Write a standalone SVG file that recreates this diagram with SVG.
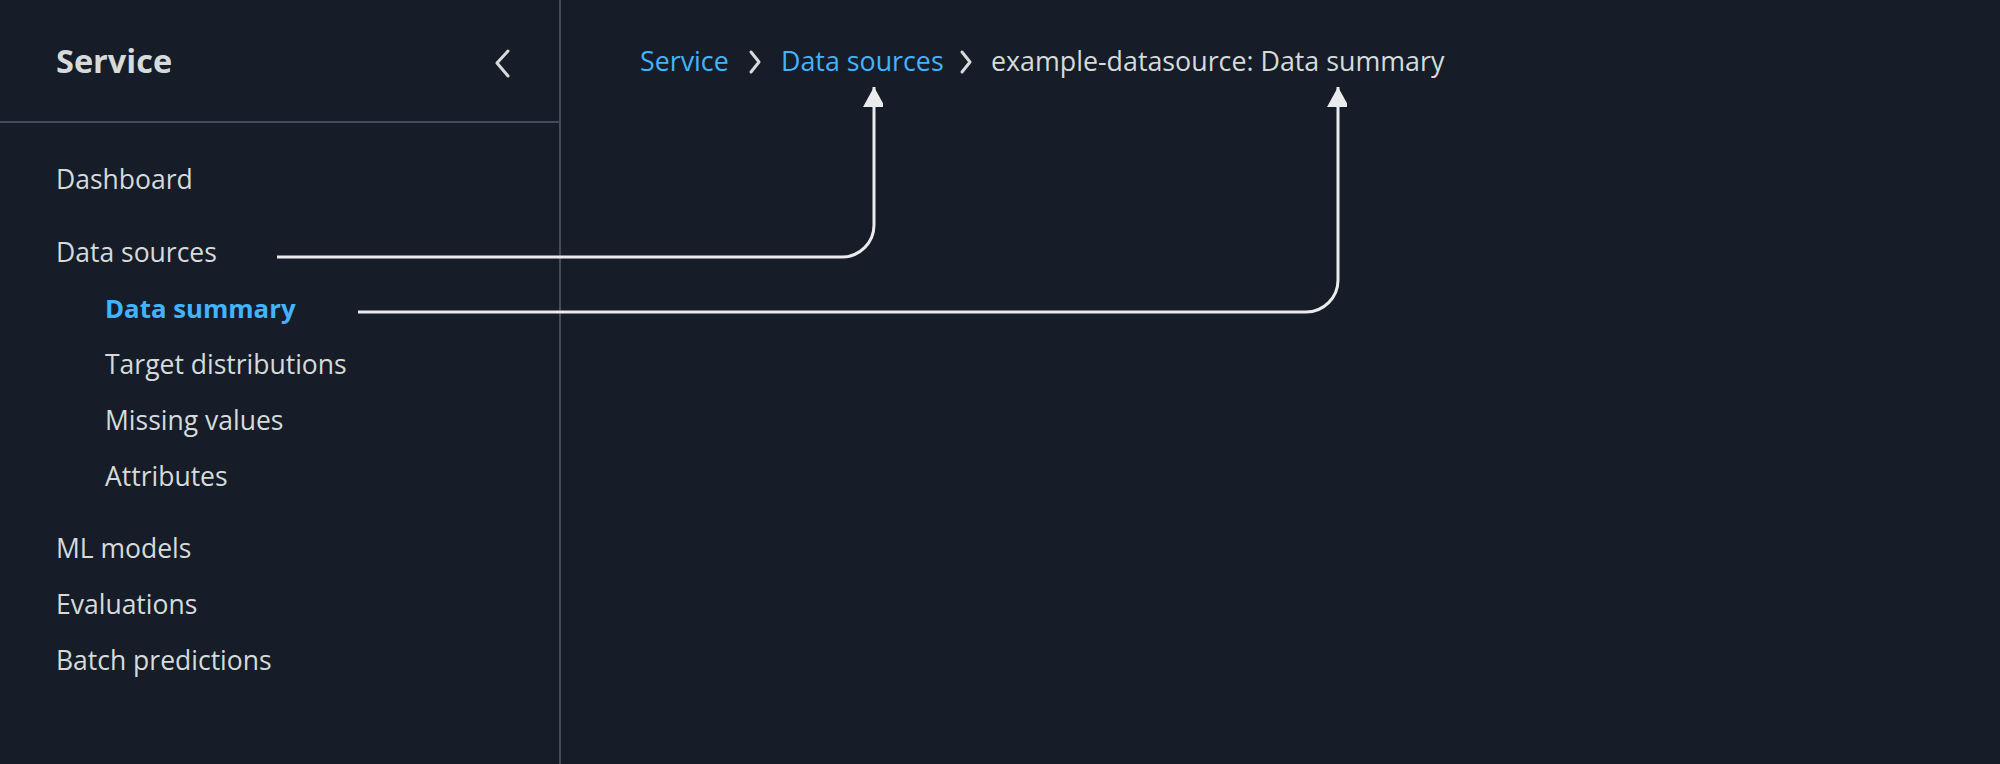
<svg xmlns="http://www.w3.org/2000/svg" width="2000" height="764" viewBox="0 0 2000 764">
<style>
text{font-family:"Open Sans","Noto Sans",sans-serif;fill:#d5dbdb}
.nav{font-size:26.5px}
.blue{fill:#42b4ff}
.crumb{font-size:26.8px}
.conn{fill:none;stroke:#e9ebed;stroke-width:3}
.chev{fill:none;stroke:#d5dbdb;stroke-width:3;stroke-linecap:round;stroke-linejoin:round}
</style>
<defs>
<marker id="arr" markerWidth="22" markerHeight="20" refX="20" refY="11" orient="auto" markerUnits="userSpaceOnUse">
<path d="M0,0 L20,11 L0,22 Z" fill="#e9ebed"/>
</marker>
</defs>
<rect width="2000" height="764" fill="#161d28"/>
<line x1="560" y1="0" x2="560" y2="764" stroke="#414d5c" stroke-width="2"/>
<line x1="0" y1="122" x2="560" y2="122" stroke="#414d5c" stroke-width="2"/>
<g id="sidebar-header">
<text x="56" y="73" style="font-size:32.5px;font-weight:bold">Service</text>
<path class="chev" d="M508,51 L497,63 L508,76"/>
</g>
<g id="nav-dashboard"><text class="nav" x="56" y="189">Dashboard</text></g>
<g id="nav-datasources"><text class="nav" x="56" y="262">Data sources</text></g>
<g id="nav-datasummary"><text class="nav blue" x="105" y="318" style="font-weight:bold;font-size:25.8px">Data summary</text></g>
<g id="nav-target"><text class="nav" x="105" y="374">Target distributions</text></g>
<g id="nav-missing"><text class="nav" x="105" y="430">Missing values</text></g>
<g id="nav-attributes"><text class="nav" x="105" y="486">Attributes</text></g>
<g id="nav-ml"><text class="nav" x="56" y="558">ML models</text></g>
<g id="nav-eval"><text class="nav" x="56" y="614">Evaluations</text></g>
<g id="nav-batch"><text class="nav" x="56" y="670">Batch predictions</text></g>
<g id="crumb-service"><text class="crumb blue" x="640" y="71">Service</text></g>
<path class="chev" d="M751,52 L759,62 L751,72"/>
<g id="crumb-datasources"><text class="crumb blue" x="781" y="71">Data sources</text></g>
<path class="chev" d="M962,52 L970,62 L962,72"/>
<g id="crumb-current"><text class="crumb" x="991" y="71">example-datasource: Data summary</text></g>
<g id="connectors">
<path class="conn" marker-end="url(#arr)" d="M277,257 H842 A32,32 0 0 0 874,225 V87"/>
<path class="conn" marker-end="url(#arr)" d="M358,312 H1306 A32,32 0 0 0 1338,280 V87"/>
</g>
</svg>
